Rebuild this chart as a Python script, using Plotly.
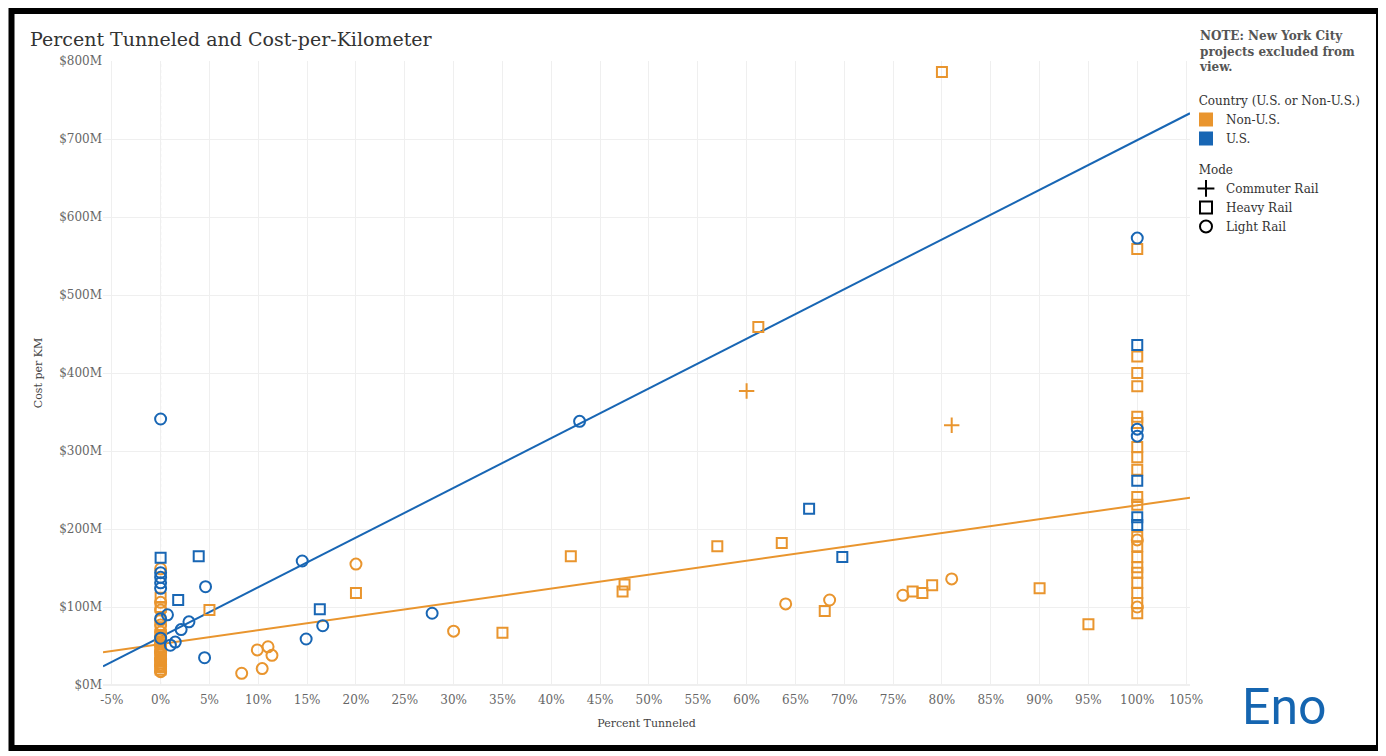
import plotly.graph_objects as go

ORANGE = "#E9952E"
BLUE = "#1866B4"
SERIF = "DejaVu Serif"

# Non-U.S. projects (percent tunneled, cost per km in $M)
nonus_heavy_x = [80, 61.2, 42, 20, 5, 35, 47.5, 47.3, 57, 63.6, 68, 77, 78, 79, 90, 95,
                 100, 100, 100, 100, 100, 100, 100, 100, 100, 100,
                 100, 100, 100, 100, 100, 100, 100, 100, 100, 100,
                 0, 0, 0, 0, 0, 0, 0, 0, 0, 0, 0, 0, 0, 0]
nonus_heavy_y = [786, 459, 165, 118, 96, 67, 129, 120, 178, 182, 95, 120, 118, 128, 124, 78,
                 559, 421, 400, 383, 344, 336, 305, 292, 276, 241,
                 231, 190, 178, 164, 151, 144, 131, 118, 105, 92,
                 112, 100, 74, 64, 58, 55, 48, 45, 39, 36, 31, 28, 23, 20]

nonus_light_x = [20, 30, 8.3, 9.9, 10.4, 11, 11.4, 64, 68.5, 76, 81, 100, 100,
                 0, 0, 0, 0, 0, 0, 0, 0, 0, 0, 0, 0, 0, 0, 0, 0, 0, 0, 0]
nonus_light_y = [155, 69, 15, 45, 21, 49, 38, 104, 109, 115, 136, 186, 100,
                 149, 106, 96, 83, 77, 68, 62, 60, 53, 50, 43, 41, 34, 32, 26, 24, 18, 17]

nonus_commuter_x = [60, 81]
nonus_commuter_y = [377, 333]

# U.S. projects
us_heavy_x = [3.9, 1.8, 16.3, 66.4, 69.8, 0, 100, 100, 100, 100]
us_heavy_y = [165, 109, 97, 226, 164, 163, 436, 262, 215, 205]

us_light_x = [0, 42.9, 14.5, 4.6, 27.8, 16.6, 14.9, 4.5, 0.7, 2.9, 2.1, 1.5, 1.0,
              0, 0, 0, 0, 0, 0, 100, 100, 100]
us_light_y = [341, 338, 159, 126, 92, 76, 59, 35, 90, 81, 71, 55, 51,
              144, 138, 131, 124, 85, 60, 573, 328, 319]

# trend line end points
trend_x = [-5.9, 105.4]
us_trend_y = [24, 733]
nonus_trend_y = [42, 240]

x_ticks = list(range(-5, 106, 5))
x_ticktext = ["%d%%" % v for v in x_ticks]
y_ticks = [0, 100, 200, 300, 400, 500, 600, 700, 800]
y_ticktext = ["$%dM" % v for v in y_ticks]

fig = go.Figure()

# trend lines
fig.add_trace(go.Scatter(x=trend_x, y=nonus_trend_y, mode="lines",
                         line=dict(color=ORANGE, width=2), showlegend=False, hoverinfo="skip"))
fig.add_trace(go.Scatter(x=trend_x, y=us_trend_y, mode="lines",
                         line=dict(color=BLUE, width=2), showlegend=False, hoverinfo="skip"))

def pts(x, y, color, symbol, size=10):
    return go.Scatter(x=x, y=y, mode="markers", showlegend=False,
                      marker=dict(symbol=symbol, size=size, color=color,
                                  line=dict(color=color, width=2)))

fig.add_trace(pts(nonus_heavy_x, nonus_heavy_y, ORANGE, "square-open"))
fig.add_trace(pts(nonus_light_x, nonus_light_y, ORANGE, "circle-open", 11))
fig.add_trace(pts(nonus_commuter_x, nonus_commuter_y, ORANGE, "cross-thin-open", 11))
fig.add_trace(pts(us_heavy_x, us_heavy_y, BLUE, "square-open"))
fig.add_trace(pts(us_light_x, us_light_y, BLUE, "circle-open", 11))

# legend entries
def leg(name, group, title, color, symbol):
    return go.Scatter(x=[None], y=[None], mode="markers", name=name,
                      legendgroup=group, legendgrouptitle=dict(text=title),
                      marker=dict(symbol=symbol, size=12, color=color,
                                  line=dict(color=color, width=2)))

fig.add_trace(leg("Non-U.S.", "country", "&nbsp;&nbsp;Country (U.S. or Non-U.S.)", ORANGE, "square"))
fig.add_trace(leg("U.S.", "country", "&nbsp;&nbsp;Country (U.S. or Non-U.S.)", BLUE, "square"))
fig.add_trace(leg("Commuter Rail", "mode", "&nbsp;&nbsp;Mode", "black", "cross-thin-open"))
fig.add_trace(leg("Heavy Rail", "mode", "&nbsp;&nbsp;Mode", "black", "square-open"))
fig.add_trace(leg("Light Rail", "mode", "&nbsp;&nbsp;Mode", "black", "circle-open"))

# page has an 8px body margin, so the figure is 8px smaller and margins shifted
fig.update_layout(
    width=1378, height=748,
    margin=dict(l=95, r=196, t=53, b=71),
    paper_bgcolor="white", plot_bgcolor="white",
    font=dict(family=SERIF, color="#333"),
    title=dict(text="Percent Tunneled and Cost-per-Kilometer", x=22/1378, xanchor="left",
               y=1-31/748, yanchor="middle", font=dict(family=SERIF, size=19, color="#333")),
    xaxis=dict(range=[-5.9, 105.4], tickvals=x_ticks, ticktext=x_ticktext, showgrid=True,
               gridcolor="#efefef", zeroline=False, showline=False, ticks="",
               tickfont=dict(size=12, color="#666"), ticklabelstandoff=6,
               title=dict(text="Percent Tunneled", font=dict(size=11, color="#444"), standoff=13)),
    yaxis=dict(range=[0, 800], tickvals=y_ticks, ticktext=y_ticktext, showgrid=True,
               gridcolor="#efefef", zeroline=True, zerolinecolor="#efefef", showline=False,
               ticks="", tickfont=dict(size=12, color="#666"),
               title=dict(text="Cost per KM", font=dict(size=11, color="#444"), standoff=14)),
    legend=dict(x=1.0 - 4/1087, xanchor="left", y=0.96, yanchor="top", groupclick="toggleitem",
                font=dict(family=SERIF, size=12, color="#333"), tracegroupgap=12,
                grouptitlefont=dict(family=SERIF, size=12, color="#333"),
                bgcolor="rgba(0,0,0,0)"),
    showlegend=True,
)

# dotted reference line at 0%
fig.add_shape(type="line", x0=0, x1=0, xref="x", y0=0, y1=1, yref="paper",
              line=dict(color="#cccccc", width=1, dash="dot"), layer="below")

# outer black frame
fig.add_shape(type="rect", xref="paper", yref="paper",
              x0=(11.5-103)/1087, x1=(1379-103)/1087, y0=(685-748)/624, y1=(685-11)/624,
              line=dict(color="black", width=6), fillcolor="rgba(0,0,0,0)")

fig.add_annotation(text="<b>NOTE: New York City<br>projects excluded from<br>view.</b>",
                   xref="paper", yref="paper", x=(1197-103)/1087, y=(685-27)/624,
                   xanchor="left", yanchor="top", align="left", showarrow=False,
                   font=dict(family=SERIF, size=12, color="#555"))

fig.add_annotation(text="Eno", xref="paper", yref="paper", x=(1284-103)/1087, y=(685-707)/624,
                   xanchor="center", yanchor="middle", showarrow=False,
                   font=dict(family="Roboto", size=50, color="#1565B0"))

fig.write_html("out.html")
